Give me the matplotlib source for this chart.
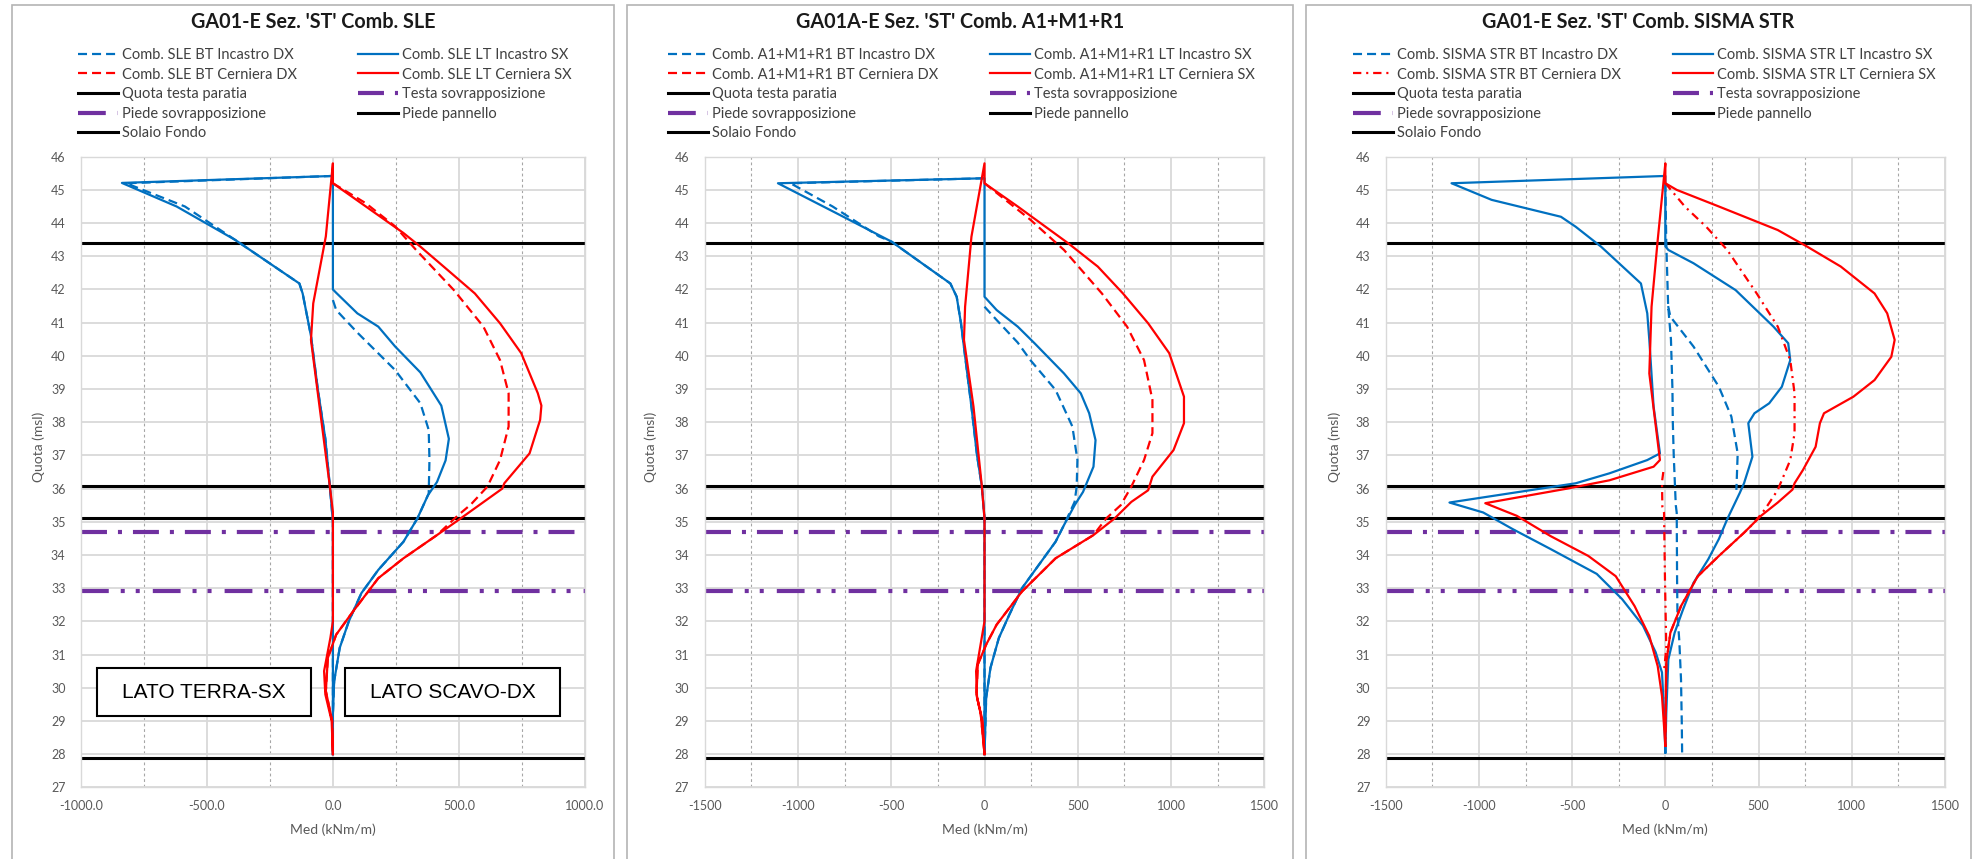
import numpy as np
import matplotlib
matplotlib.use("Agg")
import matplotlib.pyplot as plt
from matplotlib.patches import Rectangle
from matplotlib.ticker import MultipleLocator, FormatStrFormatter

plt.rcParams['lines.scale_dashes'] = False
plt.rcParams['font.family'] = ['Lato', 'DejaVu Sans']

nan = np.nan

# ---------------------------------------------------------------------------
# Quote di riferimento (m s.l.m.)
# ---------------------------------------------------------------------------
quota_testa_paratia = 43.4
solaio_fondo = 36.07
intradosso_solaio = 35.1
testa_sovrapposizione = 34.7
piede_sovrapposizione = 32.9
piede_pannello = 27.88

# ---------------------------------------------------------------------------
# Comb. SLE - momenti (kNm/m) e quote (msl)
# ---------------------------------------------------------------------------
sle_bt_incastro_med = [0, -820, -587, -387, -133, -120, -87, -60, -30, -12, 0, 0, nan,
                       0, 13, 97, 247, 347, 380, 383, 380, 377, 335, 280, 180, 113, 63, 27, 5, 0]
sle_bt_incastro_quota = [45.42, 45.2, 44.5, 43.49, 42.18, 41.88, 40.6, 39.0, 37.5, 36.06, 35.0, 28.0, nan,
                         41.68, 41.38, 40.7, 39.57, 38.57, 37.77, 36.86, 35.85, 35.8, 35.1, 34.4, 33.55, 32.85, 32.0, 31.2, 30.2, 29.2]
sle_lt_incastro_med = [0, 0, 5, 27, 63, 113, 180, 280, 335, 377, 413, 447, 460, 430, 347, 247, 180, 97, 13, 0,
                       0, -837, -620, -387, -133, -120, -87, -60, -30, -12, 0, 0]
sle_lt_incastro_quota = [28.0, 29.2, 30.2, 31.2, 32.0, 32.85, 33.55, 34.4, 35.1, 35.8, 36.2, 36.85, 37.5, 38.5, 39.5, 40.28, 40.88, 41.28, 41.9, 42.0,
                         45.42, 45.21, 44.5, 43.49, 42.18, 41.88, 40.6, 39.0, 37.5, 36.06, 35.0, 28.0]
sle_bt_cerniera_med = [0, 130, 247, 330, 480, 597, 663, 697, 697, 663, 613, 547, 497, 413, 280, 180, 80, 13, -20, -28, -3, 0]
sle_bt_cerniera_quota = [45.2, 44.6, 43.9, 43.19, 41.98, 40.88, 39.87, 38.87, 37.87, 36.86, 36.06, 35.52, 35.2, 34.6, 33.9, 33.3, 32.3, 31.6, 30.9, 29.9, 29.0, 28.0]
sle_lt_cerniera_med = [0, -3, -28, -20, 13, 80, 180, 280, 413, 488, 580, 672, 680, 780, 822, 827, 813, 747, 663, 563, 453, 347, 280, 0,
                       0, -28, -78, -87, -53, -12, 0, 0, -10, -35, -30, -5, 0]
sle_lt_cerniera_quota = [28.0, 29.0, 29.9, 30.9, 31.6, 32.3, 33.3, 33.9, 34.6, 35.0, 35.5, 36.0, 36.16, 37.06, 38.07, 38.5, 38.87, 40.08, 40.98, 41.88, 42.6, 43.29, 43.7, 45.2,
                         45.8, 43.6, 41.58, 40.48, 38.47, 36.06, 35.3, 32.0, 31.5, 30.5, 29.8, 29.0, 28.0]

# ---------------------------------------------------------------------------
# Comb. A1+M1+R1
# ---------------------------------------------------------------------------
a1_bt_incastro_med = [0, -1040, -814, -566, -498, -183, -149, -126, -115, -70, -40, -14, 0, 0, nan,
                      0, 65, 178, 246, 381, 471, 498, 494, 483, 426, 381, 291, 201, 133, 77, 32, 9, 0]
a1_bt_incastro_quota = [45.35, 45.2, 44.5, 43.6, 43.44, 42.18, 41.78, 40.98, 40.48, 38.47, 37.0, 36.06, 35.1, 28.0, nan,
                        41.48, 41.08, 40.4, 39.87, 38.97, 37.87, 36.86, 36.06, 35.6, 34.9, 34.4, 33.7, 33.0, 32.2, 31.5, 30.6, 29.7, 28.0]
a1_lt_incastro_med = [0, 9, 32, 77, 133, 201, 291, 381, 426, 483, 528, 584, 595, 561, 516, 426, 268, 178, 65, 0,
                      0, -1107, -791, -498, -183, -149, -126, -115, -70, -40, -14, 0, 0]
a1_lt_incastro_quota = [28.0, 29.7, 30.6, 31.5, 32.2, 33.0, 33.7, 34.4, 34.9, 35.5, 35.9, 36.66, 37.46, 38.27, 38.87, 39.47, 40.38, 40.88, 41.38, 41.78,
                        45.35, 45.2, 44.29, 43.44, 42.18, 41.78, 40.98, 40.48, 38.47, 37.0, 36.06, 35.1, 28.0]
a1_bt_cerniera_med = [0, 246, 426, 629, 764, 855, 900, 900, 855, 787, 730, 652, 584, 381, 201, 65, 9, -36, -43, -20, 0]
a1_bt_cerniera_quota = [45.2, 44.1, 43.19, 41.88, 40.88, 39.87, 38.67, 37.67, 36.86, 36.06, 35.5, 35.1, 34.6, 33.9, 32.9, 31.9, 31.3, 30.7, 29.8, 29.2, 28.0]
a1_lt_cerniera_med = [0, -20, -43, -36, 9, 65, 201, 381, 584, 697, 787, 877, 900, 1013, 1069, 1069, 990, 877, 742, 607, 449, 178, 0,
                      0, -70, -104, -110, -59, -14, 0, 0, -15, -45, -40, -10, 0]
a1_lt_cerniera_quota = [28.0, 29.2, 29.8, 30.7, 31.3, 31.9, 32.9, 33.9, 34.6, 35.1, 35.6, 35.95, 36.36, 37.16, 37.97, 38.77, 40.08, 40.98, 41.88, 42.69, 43.39, 44.5, 45.2,
                        45.8, 43.59, 41.48, 40.48, 38.47, 36.06, 35.1, 32.0, 31.5, 30.5, 29.7, 29.0, 28.0]

# ---------------------------------------------------------------------------
# Comb. SISMA STR
# ---------------------------------------------------------------------------
sis_bt_incastro_med = [90, 88, 84, 75, 65, 63, 61, 56, 50, 45, 40, 38, 30, 15, 5, 0, nan,
                       15, 27, 151, 287, 354, 388, 381]
sis_bt_incastro_quota = [28.05, 29.0, 30.25, 31.4, 32.2, 33.2, 35.27, 35.5, 36.3, 37.0, 38.0, 39.0, 40.5, 41.5, 43.4, 45.2, nan,
                         41.5, 41.18, 40.28, 39.07, 38.17, 37.06, 35.96]
sis_lt_incastro_med = [0, 5, 16, 50, 95, 151, 230, 287, 332, 400, 422, 467, 456, 445, 478, 557, 625, 670, 659, 580, 377, 151, 16, 0,
                       0, -1147, -932, -560, -481, -345, -210, -131, -97, -86, -63, -29, -97, -300, -481, -1158, -977, -819, -616, -368, -232, -120, -52, -18, -7, 0]
sis_lt_incastro_quota = [28.05, 29.24, 30.85, 31.66, 32.36, 33.16, 33.87, 34.48, 35.08, 35.88, 36.16, 36.96, 37.46, 37.97, 38.27, 38.57, 39.07, 39.87, 40.38, 40.88, 41.98, 42.79, 43.19, 43.3,
                         45.42, 45.2, 44.7, 44.19, 43.89, 43.29, 42.59, 42.18, 41.28, 40.48, 38.47, 37.06, 36.86, 36.46, 36.16, 35.58, 35.28, 34.78, 34.18, 33.43, 32.67, 31.87, 31.07, 30.46, 29.26, 28.05]
sis_bt_cerniera_med = [0, 106, 219, 332, 490, 603, 670, 693, 693, 670, 603, 535, 478, 422, 287, 174, 84, 27, 5, 0, nan,
                       -11, -18, -16, -7, -2, 5, -7]
sis_bt_cerniera_quota = [45.2, 44.49, 43.89, 43.19, 41.88, 40.88, 39.87, 38.87, 37.67, 36.86, 35.96, 35.38, 34.98, 34.67, 33.97, 33.36, 32.46, 31.66, 30.75, 28.25, nan,
                         36.5, 36.2, 35.45, 35.27, 33.25, 31.2, 30.5]
sis_lt_cerniera_med = [0, 5, 27, 84, 174, 287, 422, 513, 603, 682, 693, 738, 806, 829, 851, 1009, 1122, 1212, 1230, 1190, 1122, 941, 761, 603, 287, 61, 0,
                       0, -41, -74, -86, -29, -63, -300, -526, -966, -797, -616, -413, -266, -165, -86, -41, -18, 0]
sis_lt_cerniera_quota = [28.25, 30.75, 31.66, 32.46, 33.36, 33.97, 34.67, 35.18, 35.58, 35.97, 36.16, 36.56, 37.26, 37.97, 38.27, 38.77, 39.27, 39.97, 40.48, 41.28, 41.88, 42.69, 43.29, 43.79, 44.5, 45.0, 45.2,
                         45.8, 43.49, 41.48, 39.47, 36.86, 36.66, 36.25, 36.0, 35.56, 35.18, 34.57, 33.97, 33.36, 32.46, 31.56, 30.65, 29.75, 28.25]

# ---------------------------------------------------------------------------
# Stili
# ---------------------------------------------------------------------------
BLUE = '#0070C0'
RED = '#FF0000'
PURPLE = '#7030A0'
GRID = '#d9d9d9'
TXT = '#595959'
LEG = '#404040'

DASH = (0, (6.5, 3.6))
DASH_DOT_RED = (0, (6.0, 3.5, 1.5, 3.5))
DASH_DOT = (0, (18.7, 7.9, 2.9, 7.9))
DASH_DOT_DOT = (0, (20.0, 8.6, 2.9, 7.9, 2.9, 9.4))

W, H = 1975, 859
fig = plt.figure(figsize=(W / 100, H / 100), dpi=100)
fig.patch.set_facecolor('white')

panels = [
    dict(title="GA01-E Sez. 'ST' Comb. SLE", comb='SLE', xlim=1000, fmt='%.1f',
         box=(12, 614), ax_px=(80.8, 585.0), leg=(78, 358),
         bt_inc=(sle_bt_incastro_med, sle_bt_incastro_quota),
         lt_inc=(sle_lt_incastro_med, sle_lt_incastro_quota),
         bt_cer=(sle_bt_cerniera_med, sle_bt_cerniera_quota),
         lt_cer=(sle_lt_cerniera_med, sle_lt_cerniera_quota),
         cer_style=DASH, ylab_x=45),
    dict(title="GA01A-E Sez. 'ST' Comb. A1+M1+R1", comb='A1+M1+R1', xlim=1500, fmt='%d',
         box=(627, 1293), ax_px=(704.6, 1264.4), leg=(668, 990),
         bt_inc=(a1_bt_incastro_med, a1_bt_incastro_quota),
         lt_inc=(a1_lt_incastro_med, a1_lt_incastro_quota),
         bt_cer=(a1_bt_cerniera_med, a1_bt_cerniera_quota),
         lt_cer=(a1_lt_cerniera_med, a1_lt_cerniera_quota),
         cer_style=DASH, ylab_x=657),
    dict(title="GA01-E Sez. 'ST' Comb. SISMA STR", comb='SISMA STR', xlim=1500, fmt='%d',
         box=(1306, 1971), ax_px=(1385.7, 1945.0), leg=(1353, 1673),
         bt_inc=(sis_bt_incastro_med, sis_bt_incastro_quota),
         lt_inc=(sis_lt_incastro_med, sis_lt_incastro_quota),
         bt_cer=(sis_bt_cerniera_med, sis_bt_cerniera_quota),
         lt_cer=(sis_lt_cerniera_med, sis_lt_cerniera_quota),
         cer_style=DASH_DOT_RED, ylab_x=1341),
]

AX_TOP, AX_BOT = 156.7, 787.3

for p in panels:
    # cornice del grafico
    x0, x1 = p['box']
    fig.patches.append(Rectangle((x0 / W, -0.05), (x1 - x0) / W, 1.05 - 5 / H,
                                 transform=fig.transFigure, fill=False,
                                 edgecolor='#b4b4b4', linewidth=1.2, zorder=0))
    fig.text((x0 + x1) / 2 / W, 1 - 22 / H, p['title'], ha='center', va='center',
             fontsize=14.2, fontweight='bold', color='#1a1a1a')

    l, r = p['ax_px']
    ax = fig.add_axes([l / W, 1 - AX_BOT / H, (r - l) / W, (AX_BOT - AX_TOP) / H])
    lim = p['xlim']
    ax.set_xlim(-lim, lim)
    ax.set_ylim(27, 46)
    ax.xaxis.set_major_locator(MultipleLocator(500))
    ax.xaxis.set_minor_locator(MultipleLocator(250))
    ax.yaxis.set_major_locator(MultipleLocator(1))
    ax.xaxis.set_major_formatter(FormatStrFormatter(p['fmt']))
    ax.grid(which='major', axis='both', color=GRID, linewidth=1.3, zorder=0)
    ax.grid(which='minor', axis='x', color='#a6a6a6', linewidth=0.8,
            linestyle=(0, (2, 2)), zorder=0)
    ax.set_axisbelow(True)
    ax.tick_params(which='both', length=0, labelsize=9, labelcolor=TXT)
    ax.tick_params(axis='x', pad=9)
    ax.tick_params(axis='y', pad=11)
    for s in ax.spines.values():
        s.set_color(GRID)
        s.set_linewidth(1.0)
    ax.set_xlabel('Med (kNm/m)', fontsize=10, color=TXT)
    ax.xaxis.set_label_coords(0.5, -0.057)
    ax.set_ylabel('Quota (msl)', fontsize=10, color=TXT)
    ax.yaxis.set_label_coords((p['ylab_x'] - l) / (r - l), 0.54)

    # quote di riferimento
    h_qtp = ax.axhline(quota_testa_paratia, color='black', lw=2.2, zorder=2)
    h_sf = ax.axhline(solaio_fondo, color='black', lw=2.2, zorder=2)
    ax.axhline(intradosso_solaio, color='black', lw=2.2, zorder=2)
    h_pp = ax.axhline(piede_pannello, color='black', lw=2.2, zorder=2)
    h_ts = ax.axhline(testa_sovrapposizione, color=PURPLE, lw=3.0,
                      linestyle=DASH_DOT, zorder=2)
    h_ps = ax.axhline(piede_sovrapposizione, color=PURPLE, lw=3.0,
                      linestyle=DASH_DOT_DOT, zorder=2)

    # diagrammi dei momenti
    c = p['comb']
    h_bi, = ax.plot(*p['bt_inc'], color=BLUE, lw=1.6, linestyle=DASH, zorder=3)
    h_li, = ax.plot(*p['lt_inc'], color=BLUE, lw=1.6, zorder=3)
    h_bc, = ax.plot(*p['bt_cer'], color=RED, lw=1.6, linestyle=p['cer_style'], zorder=4)
    h_lc, = ax.plot(*p['lt_cer'], color=RED, lw=1.6, zorder=4)

    left_h = [h_bi, h_bc, h_qtp, h_ps, h_sf]
    left_l = [f'Comb. {c} BT Incastro DX', f'Comb. {c} BT Cerniera DX',
              'Quota testa paratia', 'Piede sovrapposizione', 'Solaio Fondo']
    right_h = [h_li, h_lc, h_ts, h_pp]
    right_l = [f'Comb. {c} LT Incastro SX', f'Comb. {c} LT Cerniera SX',
               'Testa sovrapposizione', 'Piede pannello']
    for hx, hs, ls in ((p['leg'][0], left_h, left_l), (p['leg'][1], right_h, right_l)):
        fig.legend(handles=hs, labels=ls, loc='upper left',
                   bbox_to_anchor=(hx / W, 1 - 48 / H), frameon=False,
                   borderpad=0, borderaxespad=0, handlelength=2.74,
                   handletextpad=0.27, labelspacing=0.38, fontsize=10.5,
                   labelcolor=LEG)

    if p['comb'] == 'SLE':
        for bx, bw, txt in ((97, 214, 'LATO TERRA-SX'), (345, 215, 'LATO SCAVO-DX')):
            ax0 = (bx - l) / (r - l)
            aw = bw / (r - l)
            ay0 = (AX_BOT - 716) / (AX_BOT - AX_TOP)
            ah = 48 / (AX_BOT - AX_TOP)
            ax.add_patch(Rectangle((ax0, ay0), aw, ah, transform=ax.transAxes,
                                   facecolor='white', edgecolor='black',
                                   linewidth=1.5, zorder=6))
            ax.text(ax0 + aw / 2, ay0 + ah / 2, txt, transform=ax.transAxes,
                    ha='center', va='center', fontsize=15,
                    family=['Liberation Sans', 'DejaVu Sans'], color='black',
                    zorder=7)

fig.savefig('out.png', dpi=100, facecolor='white')
